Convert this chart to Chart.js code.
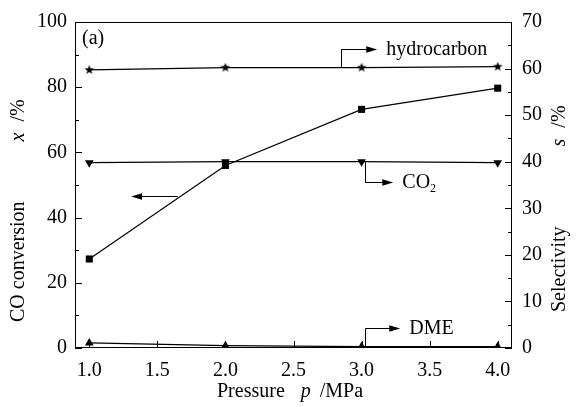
<!DOCTYPE html>
<html>
<head>
<meta charset="utf-8">
<script src="https://cdn.jsdelivr.net/npm/chart.js@4.4.1/dist/chart.umd.min.js"></script>
<style>
  html, body { margin: 0; padding: 0; background: #fff; }
</style>
</head>
<body>
<canvas id="myChart" width="580" height="407"></canvas>
<script>
// data
const pressure = [1.0, 2.0, 3.0, 4.0];
const coConversion = [27.3, 56.0, 73.2, 79.7];   // left axis, x /%
const hydrocarbon = [59.7, 60.2, 60.2, 60.4];    // right axis, s /%
const co2 = [39.8, 40.0, 40.0, 39.8];            // right axis
const dme = [1.1, 0.5, 0.3, 0.3];                // right axis

const xTicks = [1.0, 1.5, 2.0, 2.5, 3.0, 3.5, 4.0];
const leftTicks = [0, 20, 40, 60, 80, 100];
const leftMinor = [10, 30, 50, 70, 90];
const rightTicks = [0, 10, 20, 30, 40, 50, 60, 70];
const rightMinor = [5, 15, 25, 35, 45, 55, 65];

const FONT = "'Liberation Serif', 'DejaVu Serif', serif";

function pts(ys) {
  return pressure.map((p, i) => ({ x: p, y: ys[i] }));
}

function makeStar(size) {
  const c = document.createElement("canvas");
  c.width = size;
  c.height = size;
  const g = c.getContext("2d");
  const R = size / 2, r = R * 0.42;
  g.beginPath();
  for (let i = 0; i < 10; i++) {
    const a = -Math.PI / 2 + i * Math.PI / 5;
    const rad = i % 2 ? r : R;
    g.lineTo(R + rad * Math.cos(a), R + rad * Math.sin(a));
  }
  g.closePath();
  g.fillStyle = "#000";
  g.fill();
  return c;
}
const starImg = makeStar(10);

// annotation arrows, in data units of the given axis
const arrows = [
  { axis: "y2", x0: 2.85, y0: 60.2, y1: 64.1, x1: 3.115, label: "hydrocarbon" },
  { axis: "y2", x0: 3.025, y0: 40.0, y1: 35.6, x1: 3.233, label: "CO", sub: "2" },
  { axis: "y2", x0: 3.025, y0: 0.3, y1: 4.3, x1: 3.284, label: "DME" },
];
const leftArrow = { axis: "y", xFrom: 1.65, xTo: 1.307, y: 46.7 };

function arrowHead(ctx, x, y, dir) {
  ctx.beginPath();
  ctx.moveTo(x, y);
  ctx.lineTo(x - dir * 11, y - 3.2);
  ctx.lineTo(x - dir * 11, y + 3.2);
  ctx.closePath();
  ctx.fill();
}

function drawPieces(ctx, pieces) {
  let x = 0;
  pieces.forEach(p => {
    ctx.font = (p.italic ? "italic " : "") + (p.size || 20) + "px " + FONT;
    ctx.fillText(p.text, x, p.dy || 0);
    x += ctx.measureText(p.text).width + (p.gap || 0);
  });
}

const decorations = {
  id: "decorations",
  afterDatasetsDraw(chart) {
    const ctx = chart.ctx;
    const a = chart.chartArea;
    const sx = chart.scales.x, sl = chart.scales.y, sr = chart.scales.y2;
    ctx.save();
    ctx.strokeStyle = "#000";
    ctx.fillStyle = "#000";
    ctx.lineWidth = 1;

    // frame
    ctx.strokeRect(a.left + 0.5, a.top + 0.5, a.right - a.left - 1, a.bottom - a.top - 1);

    // inward ticks
    ctx.beginPath();
    xTicks.forEach(v => {
      const px = Math.round(sx.getPixelForValue(v)) + 0.5;
      ctx.moveTo(px, a.bottom); ctx.lineTo(px, a.bottom - 7);
    });
    leftTicks.forEach(v => {
      const py = Math.round(sl.getPixelForValue(v)) + 0.5;
      ctx.moveTo(a.left, py); ctx.lineTo(a.left + 7, py);
    });
    leftMinor.forEach(v => {
      const py = Math.round(sl.getPixelForValue(v)) + 0.5;
      ctx.moveTo(a.left, py); ctx.lineTo(a.left + 4, py);
    });
    rightTicks.forEach(v => {
      const py = Math.round(sr.getPixelForValue(v)) + 0.5;
      ctx.moveTo(a.right, py); ctx.lineTo(a.right - 7, py);
    });
    rightMinor.forEach(v => {
      const py = Math.round(sr.getPixelForValue(v)) + 0.5;
      ctx.moveTo(a.right, py); ctx.lineTo(a.right - 4, py);
    });
    ctx.stroke();

    // arrows with labels
    ctx.textBaseline = "middle";
    arrows.forEach(ar => {
      const s = chart.scales[ar.axis];
      const x0 = Math.round(sx.getPixelForValue(ar.x0)) + 0.5;
      const x1 = sx.getPixelForValue(ar.x1);
      const y0 = s.getPixelForValue(ar.y0);
      const y1 = Math.round(s.getPixelForValue(ar.y1)) + 0.5;
      ctx.beginPath();
      ctx.moveTo(x0, y0);
      ctx.lineTo(x0, y1);
      ctx.lineTo(x1 - 8, y1);
      ctx.stroke();
      arrowHead(ctx, x1, y1, 1);
      ctx.save();
      ctx.translate(x1 + 9, y1);
      const pieces = [{ text: ar.label }];
      if (ar.sub) pieces.push({ text: ar.sub, size: 12, dy: 6 });
      drawPieces(ctx, pieces);
      ctx.restore();
    });
    const la = leftArrow;
    const ly = Math.round(chart.scales[la.axis].getPixelForValue(la.y)) + 0.5;
    const lx0 = sx.getPixelForValue(la.xFrom), lx1 = sx.getPixelForValue(la.xTo);
    ctx.beginPath();
    ctx.moveTo(lx0, ly);
    ctx.lineTo(lx1 + 8, ly);
    ctx.stroke();
    arrowHead(ctx, lx1, ly, -1);

    // panel label
    ctx.font = "20px " + FONT;
    ctx.textAlign = "left";
    ctx.fillText("(a)", a.left + 7, a.top + 17);

    // axis titles
    ctx.save();
    ctx.translate(217, 392);
    drawPieces(ctx, [
      { text: "Pressure", gap: 16 },
      { text: "p", italic: true, gap: 4 },
      { text: " /MPa" },
    ]);
    ctx.restore();

    ctx.save();
    ctx.translate(19, 322);
    ctx.rotate(-Math.PI / 2);
    drawPieces(ctx, [
      { text: "CO conversion", gap: 60 },
      { text: "x", italic: true, gap: 6 },
      { text: " /%" },
    ]);
    ctx.restore();

    ctx.save();
    ctx.translate(560, 312);
    ctx.rotate(-Math.PI / 2);
    drawPieces(ctx, [
      { text: "Selectivity", gap: 80 },
      { text: "s", italic: true, gap: 6 },
      { text: " /%" },
    ]);
    ctx.restore();

    ctx.restore();
  },
};

function setTicks(list) {
  return scale => { scale.ticks = list.map(v => ({ value: v })); };
}

const lineBase = {
  borderColor: "#000",
  backgroundColor: "#000",
  borderWidth: 1.2,
  pointBorderWidth: 0,
  pointBackgroundColor: "#000",
  tension: 0,
};

const ctx = document.getElementById("myChart").getContext("2d");
new Chart(ctx, {
  type: "line",
  data: {
    datasets: [
      { ...lineBase, label: "CO conversion", data: pts(coConversion), yAxisID: "y",
        pointStyle: "rect", pointRadius: 5 },
      { ...lineBase, label: "hydrocarbon", data: pts(hydrocarbon), yAxisID: "y2",
        pointStyle: starImg, pointRadius: 5 },
      { ...lineBase, label: "CO2", data: pts(co2), yAxisID: "y2",
        pointStyle: "triangle", pointRotation: 180, pointRadius: 5 },
      { ...lineBase, label: "DME", data: pts(dme), yAxisID: "y2",
        pointStyle: "triangle", pointRadius: 5 },
    ],
  },
  options: {
    responsive: false,
    animation: false,
    layout: { padding: { top: 18, left: 0, right: 0, bottom: 0 } },
    plugins: {
      legend: { display: false },
      tooltip: { enabled: false },
    },
    scales: {
      x: {
        type: "linear",
        min: 0.895,
        max: 4.105,
        afterBuildTicks: setTicks(xTicks),
        afterFit: s => { s.height = 59; },
        grid: { display: false, drawTicks: false, tickLength: 0 },
        border: { display: false },
        ticks: {
          padding: 11,
          color: "#000",
          font: { family: FONT, size: 20 },
          callback: v => Number(v).toFixed(1),
          maxRotation: 0,
        },
      },
      y: {
        position: "left",
        min: 0,
        max: 100,
        afterBuildTicks: setTicks(leftTicks),
        afterFit: s => { s.width = 75; },
        grid: { display: false, drawTicks: false, tickLength: 0 },
        border: { display: false },
        ticks: { padding: 8, color: "#000", font: { family: FONT, size: 20 } },
      },
      y2: {
        position: "right",
        min: 0,
        max: 70,
        afterBuildTicks: setTicks(rightTicks),
        afterFit: s => { s.width = 68; },
        grid: { display: false, drawTicks: false, tickLength: 0 },
        border: { display: false },
        ticks: { padding: 10, color: "#000", font: { family: FONT, size: 20 } },
      },
    },
  },
  plugins: [decorations],
});
</script>
</body>
</html>
